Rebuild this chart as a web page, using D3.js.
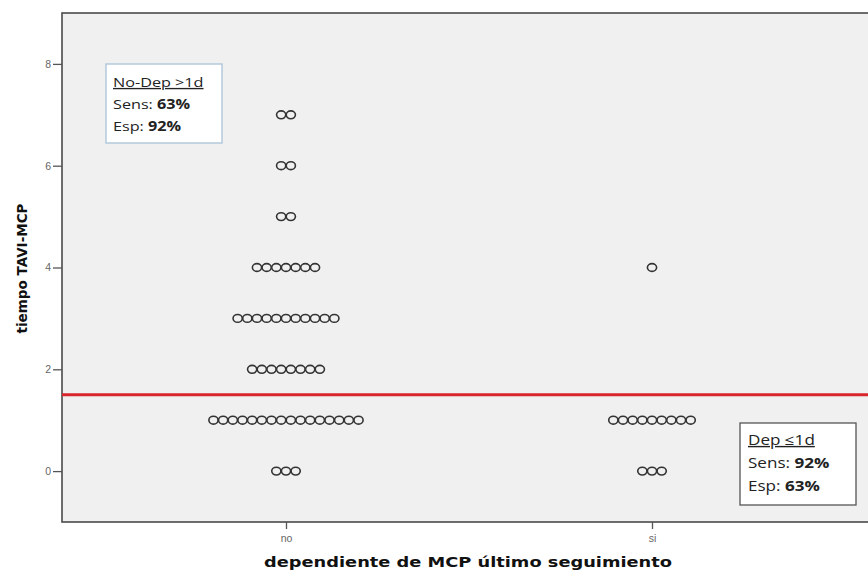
<!DOCTYPE html>
<html><head><meta charset="utf-8">
<script src="https://cdn.jsdelivr.net/npm/d3@7"></script>
<style>html,body{margin:0;padding:0;background:#fff;}svg{display:block;}</style>
</head><body>
<svg id="chart" width="868" height="575"></svg>
<script>
// ---- data ----
const categories = ["no", "si"];
const timeValues = [0, 1, 2, 3, 4, 5, 6, 7];
const countsNo = [3, 16, 8, 11, 7, 2, 2, 2];
const countsSi = [3, 9, 0, 0, 1, 0, 0, 0];
const yTicks = [0, 2, 4, 6, 8];
const cutoff = 1.5;
const xTitle = "dependiente de MCP último seguimiento";
const yTitle = "tiempo TAVI-MCP";
const box1Title = "No-Dep >1d", box1Sens = "63%", box1Esp = "92%";
const box2Title = "Dep \u22641d", box2Sens = "92%", box2Esp = "63%";

const W = 868, H = 575;
const m = {left: 62, top: 13, right: 876, bottom: 522};
const svg = d3.select("#chart");

const x = d3.scalePoint().domain(categories).range([m.left, m.right]).padding(0.612);
const y = d3.scaleLinear().domain([-1, 9]).range([m.bottom, m.top]);

// plot background
svg.append("rect").attr("x", m.left).attr("y", m.top)
  .attr("width", m.right - m.left).attr("height", m.bottom - m.top)
  .attr("fill", "#f0f0f0").attr("stroke", "#4a4a4a").attr("stroke-width", 1.6);

// axes
const yAxis = svg.append("g").attr("transform", `translate(${m.left},0)`)
  .call(d3.axisLeft(y).tickValues(yTicks).tickSize(9).tickPadding(2));
const xAxis = svg.append("g").attr("transform", `translate(0,${m.bottom})`)
  .call(d3.axisBottom(x).tickSize(7).tickPadding(6));
[yAxis, xAxis].forEach(g => {
  g.select(".domain").remove();
  g.selectAll("line").attr("stroke", "#555").attr("stroke-width", 1.3);
  g.selectAll("text").attr("fill", "#666").style("font-family", "Liberation Sans, Arial, sans-serif").style("font-size", "10.5px");
});

// points (dot-plot stacking, horizontally centred on category)
const step = 9.67;
const points = [];
[countsNo, countsSi].forEach((counts, ci) => {
  counts.forEach((n, vi) => {
    for (let k = 0; k < n; k++) {
      points.push({cat: categories[ci], v: timeValues[vi], off: (k - (n - 1) / 2) * step});
    }
  });
});
svg.append("g").selectAll("ellipse").data(points).join("ellipse")
  .attr("cx", d => x(d.cat) + d.off)
  .attr("cy", d => y(d.v))
  .attr("rx", 4.6).attr("ry", 3.9)
  .attr("fill", "none").attr("stroke", "#333").attr("stroke-width", 1.6);

// cutoff line
svg.append("line").attr("x1", m.left).attr("x2", m.right)
  .attr("y1", y(cutoff)).attr("y2", y(cutoff))
  .attr("stroke", "#d8262c").attr("stroke-width", 3);

// axis titles
svg.append("text").attr("x", 468).attr("y", 567).attr("text-anchor", "middle")
  .attr("textLength", 408).attr("lengthAdjust", "spacingAndGlyphs")
  .style("font-family", "DejaVu Sans, Verdana, sans-serif").style("font-weight", "bold").style("font-size", "14px")
  .attr("fill", "#111").text(xTitle);
svg.append("text").attr("transform", `translate(27,${(m.top + m.bottom) / 2 + 1}) rotate(-90)`)
  .attr("text-anchor", "middle")
  .style("font-family", "DejaVu Sans, Verdana, sans-serif").style("font-weight", "bold").style("font-size", "13.5px")
  .attr("fill", "#111").text(yTitle);

// annotation boxes
function box(bx, by, bw, bh, stroke, tx, lines, fs, sx) {
  const g = svg.append("g");
  g.append("rect").attr("x", bx).attr("y", by).attr("width", bw).attr("height", bh)
    .attr("fill", "#fff").attr("stroke", stroke).attr("stroke-width", 1.3);
  lines.forEach((ln, i) => {
    const t = g.append("text").attr("transform", `translate(${tx},${ln.y}) scale(${sx},1)`)
      .style("font-family", "Open Sans, Liberation Sans, sans-serif").style("font-size", fs + "px")
      .attr("fill", "#222");
    t.append("tspan").text(ln.a).attr("text-decoration", ln.u ? "underline" : null);
    if (ln.b) t.append("tspan").text(ln.b).style("font-weight", "bold");
  });
}
box(106, 64, 116, 79, "#a9c2d8", 113, [
  {a: box1Title, u: true, y: 87},
  {a: "Sens: ", b: box1Sens, y: 109},
  {a: "Esp: ", b: box1Esp, y: 131}
], 13.5, 1.2);
box(740, 423, 116, 82, "#555", 748, [
  {a: box2Title, u: true, y: 445},
  {a: "Sens: ", b: box2Sens, y: 468},
  {a: "Esp: ", b: box2Esp, y: 491}
], 14, 1.22);
</script>
</body></html>
